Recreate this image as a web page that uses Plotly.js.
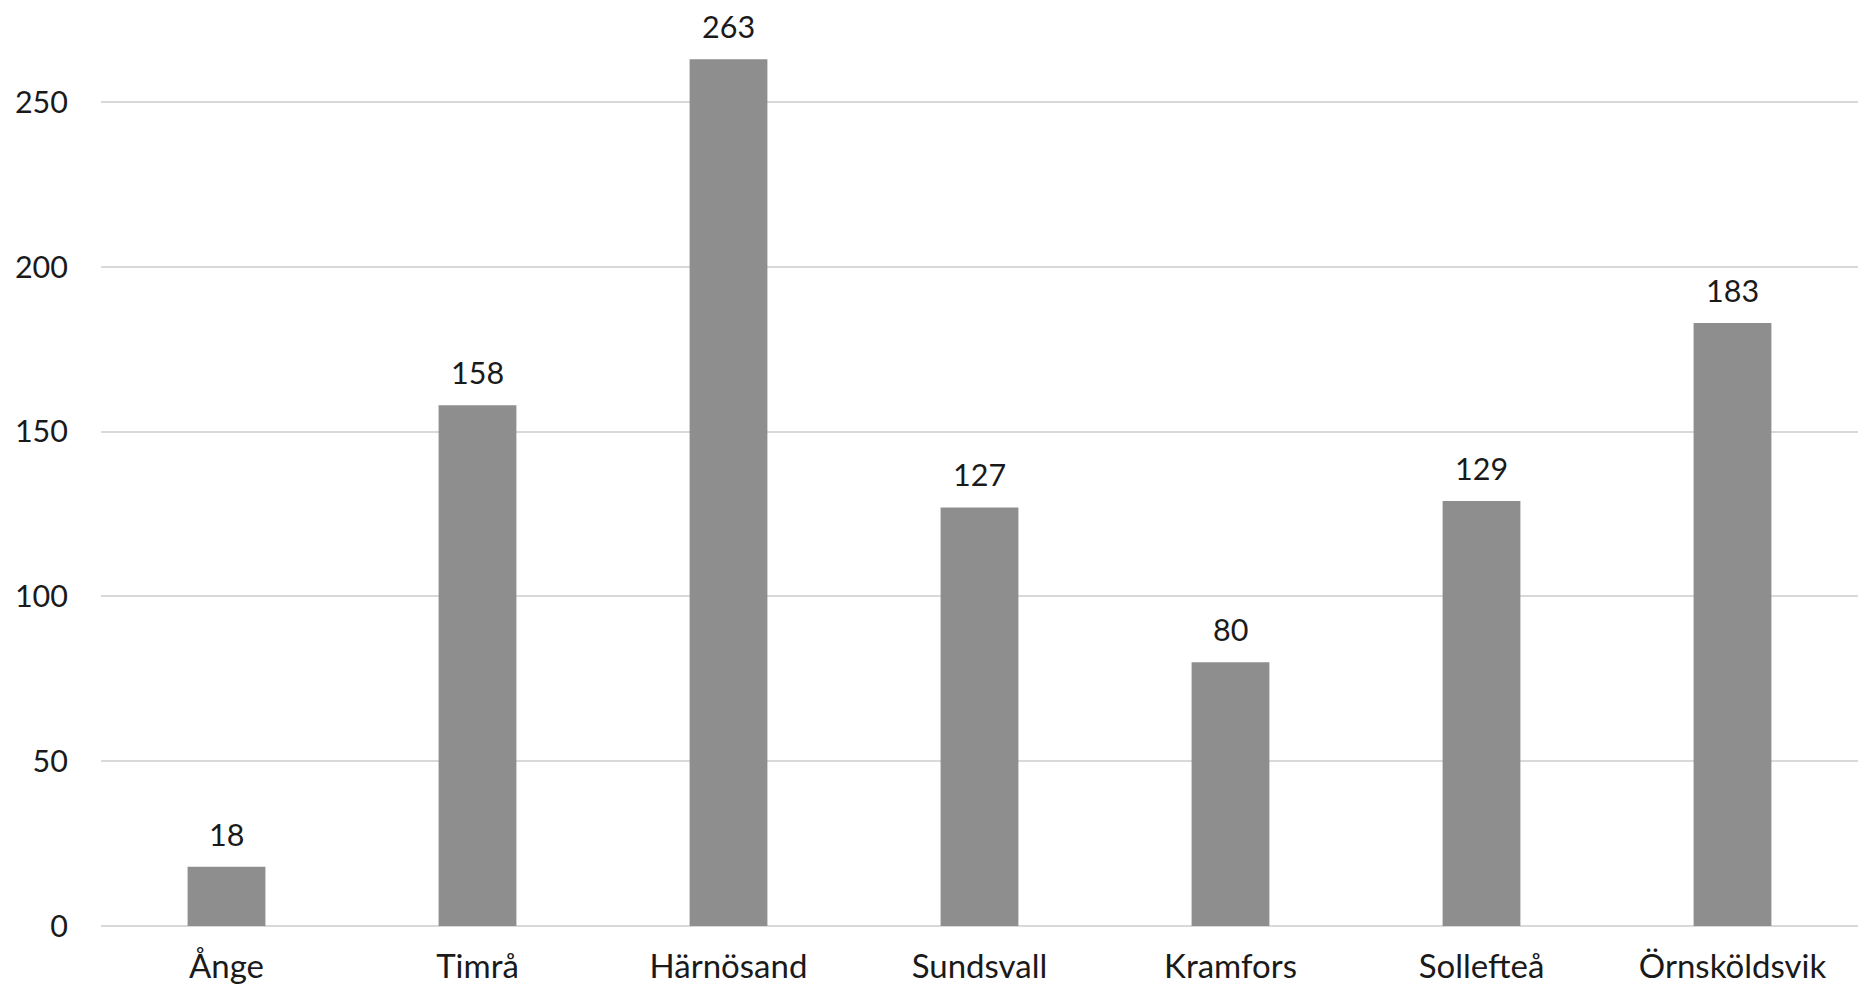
<!DOCTYPE html>
<html>
<head>
<meta charset="utf-8">
<script src="https://cdn.plot.ly/plotly-3.0.1.min.js"></script>
<style>html,body{margin:0;padding:0;background:#fff;}#chart{width:1864px;height:993px;}</style>
</head>
<body>
<div id="chart"></div>
<script>
const categories = ["Ånge", "Timrå", "Härnösand", "Sundsvall", "Kramfors", "Sollefteå", "Örnsköldsvik"];
const values = [18, 158, 263, 127, 80, 129, 183];
const yTicks = [0, 50, 100, 150, 200, 250];

const fontFamily = "Lato, 'Open Sans', sans-serif";

const trace = {
  type: 'bar',
  x: categories,
  y: values,
  marker: {color: '#8e8e8e'},
  hoverinfo: 'x+y'
};

const annotations = categories.map((c, i) => ({
  x: c, y: values[i], xref: 'x', yref: 'y',
  text: String(values[i]), showarrow: false,
  yanchor: 'bottom', yshift: 13,
  font: {family: fontFamily, size: 30.5, color: '#1a1a1a'}
}));

const layout = {
  width: 1864, height: 993,
  margin: {l: 101, r: 6, t: 0, b: 67},
  paper_bgcolor: '#ffffff', plot_bgcolor: '#ffffff',
  showlegend: false,
  bargap: 0.69,
  font: {family: fontFamily, color: '#1a1a1a'},
  xaxis: {
    type: 'category',
    showgrid: false, showline: false, zeroline: false, ticks: '',
    tickfont: {family: fontFamily, size: 33, color: '#1a1a1a'},
    ticklabelstandoff: 18
  },
  yaxis: {
    range: [0, 281],
    tickvals: yTicks,
    ticktext: yTicks.map(String),
    showgrid: true, gridcolor: '#d9d9d9', gridwidth: 2,
    zeroline: true, zerolinecolor: '#d9d9d9', zerolinewidth: 2,
    showline: false, ticks: '',
    tickfont: {family: fontFamily, size: 30.5, color: '#1a1a1a'},
    ticklabelstandoff: 32
  },
  annotations: annotations
};

Plotly.newPlot('chart', [trace], layout, {displayModeBar: false, staticPlot: true});
</script>
</body>
</html>
